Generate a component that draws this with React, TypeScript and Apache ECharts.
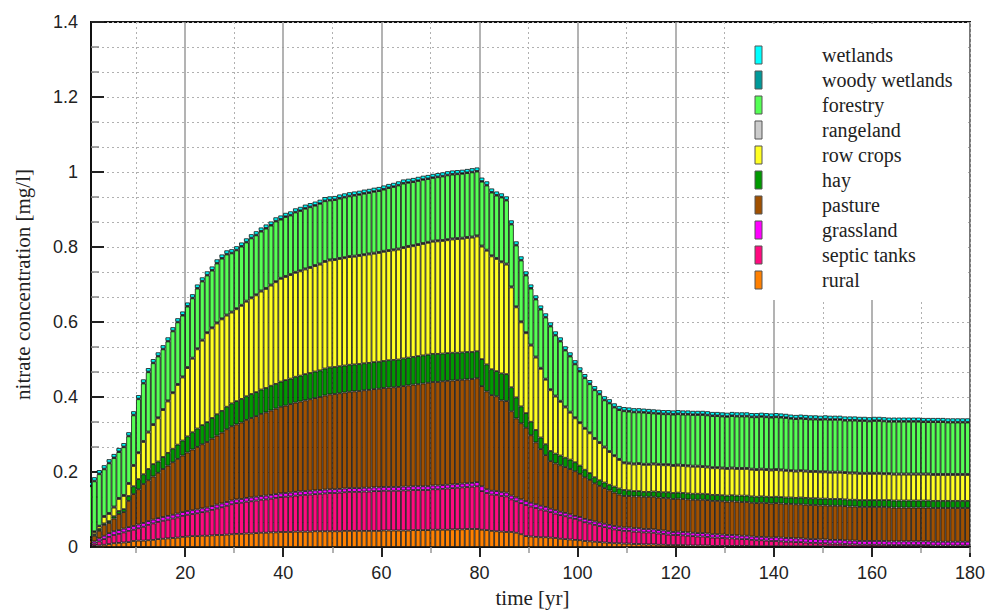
import React, { useEffect, useRef } from "react";
import * as echarts from "echarts";

// years 1..180 (one bar per year)
const years: string[] = Array.from({ length: 180 }, (_, i) => String(i + 1));

const xMajorStep = 20;
const xMinorOffset = 10;

const rural = [
  0.002,0.003,0.004,0.006,0.008,0.010,0.011,0.012,0.013,0.016,
  0.017,0.017,0.018,0.019,0.021,0.022,0.023,0.024,0.025,0.027,
  0.028,0.029,0.029,0.030,0.030,0.031,0.032,0.032,0.033,0.034,
  0.035,0.035,0.036,0.036,0.037,0.038,0.038,0.039,0.039,0.040,
  0.040,0.040,0.041,0.041,0.041,0.041,0.042,0.042,0.042,0.042,
  0.042,0.042,0.043,0.043,0.043,0.043,0.043,0.043,0.043,0.043,
  0.044,0.044,0.044,0.044,0.044,0.044,0.045,0.045,0.045,0.045,
  0.046,0.046,0.046,0.046,0.047,0.047,0.047,0.048,0.048,0.048,
  0.046,0.045,0.043,0.042,0.041,0.040,0.040,0.038,0.034,0.029,
  0.028,0.027,0.026,0.026,0.025,0.024,0.022,0.021,0.020,0.019,
  0.018,0.016,0.015,0.014,0.013,0.012,0.011,0.010,0.010,0.009,
  0.009,0.008,0.008,0.007,0.007,0.007,0.006,0.006,0.005,0.005,
  0.005,0.005,0.004,0.004,0.004,0.004,0.004,0.003,0.003,0.003,
  0.003,0.003,0.003,0.003,0.003,0.002,0.002,0.002,0.002,0.002,
  0.002,0.002,0.002,0.002,0.002,0.002,0.002,0.002,0.002,0.002,
  0.002,0.002,0.002,0.002,0.002,0.001,0.001,0.001,0.001,0.001,
  0.001,0.001,0.001,0.001,0.001,0.001,0.001,0.001,0.001,0.001,
  0.001,0.001,0.001,0.001,0.001,0.001,0.001,0.001,0.001,0.001,
];

const septicTanks = [
  0.003,0.006,0.011,0.015,0.019,0.022,0.024,0.027,0.030,0.030,
  0.033,0.037,0.041,0.044,0.046,0.048,0.050,0.052,0.054,0.056,
  0.058,0.059,0.061,0.063,0.065,0.068,0.071,0.074,0.077,0.080,
  0.082,0.083,0.085,0.086,0.087,0.088,0.089,0.090,0.092,0.093,
  0.094,0.095,0.096,0.097,0.098,0.099,0.099,0.100,0.101,0.102,
  0.102,0.103,0.103,0.104,0.104,0.104,0.105,0.105,0.106,0.106,
  0.106,0.106,0.106,0.106,0.107,0.107,0.107,0.107,0.107,0.107,
  0.108,0.108,0.109,0.110,0.110,0.111,0.112,0.112,0.113,0.114,
  0.103,0.099,0.097,0.097,0.095,0.095,0.087,0.084,0.083,0.083,
  0.080,0.077,0.074,0.071,0.068,0.065,0.063,0.061,0.058,0.056,
  0.053,0.050,0.048,0.045,0.043,0.041,0.039,0.037,0.035,0.034,
  0.034,0.033,0.033,0.032,0.032,0.031,0.030,0.029,0.028,0.027,
  0.027,0.026,0.026,0.025,0.024,0.024,0.023,0.022,0.022,0.021,
  0.020,0.020,0.019,0.018,0.018,0.017,0.016,0.016,0.015,0.014,
  0.014,0.013,0.012,0.012,0.011,0.011,0.010,0.009,0.009,0.008,
  0.008,0.007,0.007,0.007,0.006,0.006,0.006,0.005,0.005,0.005,
  0.005,0.005,0.005,0.004,0.004,0.004,0.004,0.004,0.004,0.004,
  0.004,0.004,0.003,0.003,0.003,0.003,0.003,0.003,0.003,0.003,
];

const grassland = [
  0.004,0.006,0.008,0.009,0.010,0.010,0.010,0.010,0.010,0.010,
  0.010,0.010,0.010,0.010,0.010,0.010,0.010,0.010,0.010,0.010,
  0.010,0.010,0.010,0.010,0.010,0.010,0.010,0.010,0.010,0.010,
  0.010,0.010,0.010,0.010,0.010,0.010,0.010,0.010,0.010,0.010,
  0.010,0.010,0.010,0.010,0.010,0.010,0.010,0.010,0.010,0.010,
  0.010,0.010,0.010,0.010,0.010,0.010,0.010,0.010,0.010,0.010,
  0.010,0.010,0.010,0.010,0.010,0.010,0.010,0.010,0.010,0.010,
  0.010,0.010,0.010,0.010,0.010,0.010,0.010,0.010,0.010,0.011,
  0.013,0.010,0.010,0.010,0.010,0.010,0.010,0.010,0.010,0.010,
  0.010,0.010,0.010,0.010,0.009,0.009,0.009,0.009,0.009,0.008,
  0.009,0.009,0.009,0.009,0.009,0.009,0.009,0.009,0.009,0.009,
  0.009,0.009,0.009,0.009,0.009,0.009,0.009,0.009,0.009,0.008,
  0.009,0.009,0.009,0.009,0.009,0.009,0.009,0.009,0.009,0.009,
  0.009,0.009,0.009,0.009,0.009,0.009,0.009,0.009,0.009,0.009,
  0.010,0.010,0.010,0.010,0.010,0.010,0.010,0.010,0.010,0.010,
  0.010,0.010,0.010,0.010,0.010,0.010,0.010,0.010,0.010,0.010,
  0.010,0.010,0.010,0.010,0.010,0.010,0.010,0.010,0.010,0.010,
  0.010,0.010,0.010,0.010,0.010,0.010,0.010,0.010,0.010,0.010,
];

const pasture = [
  0.009,0.015,0.020,0.029,0.027,0.034,0.043,0.044,0.070,0.085,
  0.094,0.104,0.109,0.115,0.121,0.128,0.134,0.140,0.146,0.151,
  0.156,0.162,0.167,0.171,0.175,0.180,0.184,0.189,0.194,0.198,
  0.200,0.204,0.208,0.212,0.215,0.219,0.222,0.225,0.228,0.231,
  0.233,0.236,0.238,0.240,0.242,0.244,0.246,0.248,0.251,0.253,
  0.254,0.255,0.256,0.257,0.258,0.259,0.260,0.261,0.262,0.263,
  0.264,0.265,0.266,0.267,0.268,0.270,0.271,0.272,0.274,0.276,
  0.276,0.276,0.277,0.277,0.277,0.277,0.277,0.277,0.277,0.277,
  0.267,0.261,0.255,0.253,0.245,0.244,0.225,0.211,0.203,0.196,
  0.180,0.165,0.151,0.138,0.127,0.125,0.124,0.122,0.121,0.119,
  0.115,0.111,0.107,0.102,0.098,0.095,0.092,0.089,0.086,0.084,
  0.084,0.085,0.085,0.086,0.086,0.087,0.087,0.087,0.088,0.088,
  0.088,0.088,0.088,0.088,0.089,0.089,0.089,0.089,0.089,0.089,
  0.089,0.090,0.090,0.090,0.090,0.090,0.090,0.091,0.091,0.091,
  0.091,0.091,0.091,0.091,0.091,0.091,0.091,0.091,0.091,0.091,
  0.091,0.091,0.091,0.091,0.091,0.091,0.091,0.091,0.091,0.091,
  0.091,0.091,0.091,0.091,0.090,0.090,0.090,0.090,0.090,0.090,
  0.090,0.090,0.090,0.090,0.090,0.090,0.090,0.090,0.090,0.090,
];

const hay = [
  0.003,0.004,0.005,0.004,0.005,0.006,0.008,0.008,0.013,0.021,
  0.027,0.026,0.030,0.033,0.030,0.032,0.034,0.036,0.038,0.040,
  0.043,0.046,0.049,0.051,0.053,0.055,0.057,0.058,0.060,0.061,
  0.062,0.063,0.063,0.064,0.064,0.065,0.065,0.066,0.066,0.067,
  0.068,0.068,0.069,0.069,0.070,0.070,0.071,0.071,0.072,0.072,
  0.072,0.072,0.072,0.072,0.072,0.072,0.072,0.072,0.072,0.072,
  0.072,0.073,0.073,0.073,0.074,0.074,0.074,0.075,0.075,0.075,
  0.075,0.075,0.074,0.074,0.074,0.073,0.073,0.073,0.072,0.072,
  0.072,0.072,0.069,0.067,0.072,0.072,0.064,0.056,0.045,0.039,
  0.036,0.033,0.031,0.029,0.027,0.026,0.026,0.025,0.025,0.024,
  0.022,0.020,0.018,0.016,0.015,0.015,0.015,0.016,0.016,0.016,
  0.015,0.014,0.014,0.013,0.013,0.014,0.015,0.015,0.016,0.016,
  0.016,0.016,0.016,0.016,0.016,0.016,0.016,0.016,0.016,0.016,
  0.016,0.016,0.016,0.017,0.017,0.017,0.017,0.017,0.017,0.017,
  0.017,0.017,0.017,0.017,0.017,0.018,0.018,0.018,0.018,0.018,
  0.018,0.018,0.018,0.018,0.018,0.018,0.018,0.018,0.018,0.018,
  0.018,0.018,0.018,0.019,0.019,0.019,0.019,0.019,0.019,0.019,
  0.019,0.019,0.019,0.019,0.019,0.019,0.019,0.019,0.019,0.019,
];

const rowCrops = [
  0.004,0.006,0.007,0.017,0.019,0.023,0.032,0.035,0.032,0.054,
  0.069,0.086,0.097,0.104,0.115,0.125,0.137,0.148,0.159,0.168,
  0.182,0.196,0.211,0.225,0.237,0.239,0.242,0.244,0.243,0.242,
  0.245,0.248,0.252,0.255,0.258,0.261,0.264,0.267,0.271,0.274,
  0.275,0.276,0.277,0.278,0.279,0.280,0.281,0.282,0.284,0.285,
  0.285,0.286,0.286,0.287,0.287,0.288,0.288,0.289,0.289,0.290,
  0.291,0.291,0.292,0.293,0.294,0.295,0.295,0.296,0.297,0.298,
  0.299,0.300,0.300,0.301,0.302,0.303,0.303,0.304,0.305,0.306,
  0.300,0.303,0.301,0.299,0.296,0.292,0.266,0.240,0.224,0.213,
  0.203,0.193,0.183,0.172,0.162,0.152,0.143,0.134,0.125,0.117,
  0.113,0.109,0.106,0.102,0.099,0.093,0.087,0.081,0.076,0.071,
  0.071,0.071,0.072,0.072,0.072,0.072,0.072,0.072,0.072,0.072,
  0.072,0.072,0.072,0.072,0.072,0.071,0.071,0.071,0.071,0.071,
  0.071,0.071,0.071,0.071,0.071,0.071,0.071,0.071,0.071,0.071,
  0.071,0.071,0.071,0.070,0.070,0.070,0.070,0.070,0.070,0.070,
  0.070,0.070,0.070,0.070,0.070,0.070,0.070,0.070,0.070,0.070,
  0.070,0.070,0.069,0.069,0.069,0.069,0.069,0.069,0.069,0.069,
  0.069,0.069,0.069,0.069,0.069,0.069,0.069,0.069,0.069,0.069,
];

const rangeland = [
  0.002,0.002,0.002,0.003,0.003,0.003,0.003,0.003,0.003,0.003,
  0.003,0.003,0.003,0.003,0.003,0.003,0.003,0.003,0.003,0.003,
  0.003,0.003,0.003,0.003,0.003,0.003,0.003,0.003,0.003,0.003,
  0.003,0.003,0.003,0.003,0.003,0.003,0.003,0.003,0.003,0.003,
  0.003,0.003,0.003,0.003,0.003,0.003,0.003,0.003,0.003,0.003,
  0.003,0.003,0.003,0.003,0.003,0.003,0.003,0.003,0.003,0.003,
  0.003,0.003,0.003,0.003,0.003,0.003,0.003,0.003,0.003,0.003,
  0.003,0.003,0.003,0.003,0.003,0.003,0.003,0.003,0.003,0.003,
  0.003,0.003,0.003,0.003,0.003,0.003,0.003,0.003,0.003,0.003,
  0.003,0.003,0.003,0.003,0.003,0.003,0.003,0.003,0.003,0.003,
  0.003,0.003,0.003,0.003,0.003,0.003,0.003,0.003,0.003,0.003,
  0.003,0.003,0.003,0.003,0.003,0.003,0.003,0.003,0.003,0.003,
  0.003,0.003,0.003,0.003,0.003,0.003,0.003,0.003,0.003,0.003,
  0.003,0.003,0.003,0.003,0.003,0.003,0.003,0.003,0.003,0.003,
  0.003,0.003,0.003,0.003,0.003,0.003,0.003,0.003,0.003,0.003,
  0.003,0.003,0.003,0.003,0.003,0.003,0.003,0.003,0.003,0.003,
  0.003,0.003,0.003,0.003,0.003,0.003,0.003,0.003,0.003,0.003,
  0.003,0.003,0.003,0.003,0.003,0.003,0.003,0.003,0.003,0.003,
];

const forestry = [
  0.135,0.133,0.137,0.124,0.132,0.129,0.122,0.127,0.124,0.132,
  0.141,0.153,0.158,0.162,0.162,0.159,0.157,0.162,0.164,0.162,
  0.161,0.158,0.159,0.155,0.151,0.151,0.157,0.159,0.160,0.155,
  0.154,0.155,0.155,0.157,0.157,0.157,0.158,0.157,0.159,0.155,
  0.157,0.156,0.158,0.158,0.159,0.159,0.158,0.159,0.159,0.157,
  0.157,0.158,0.159,0.159,0.160,0.160,0.161,0.161,0.162,0.162,
  0.163,0.165,0.166,0.168,0.169,0.168,0.168,0.168,0.168,0.167,
  0.167,0.168,0.169,0.170,0.170,0.170,0.170,0.170,0.171,0.170,
  0.170,0.171,0.167,0.166,0.170,0.168,0.165,0.162,0.162,0.151,
  0.149,0.152,0.155,0.163,0.167,0.160,0.158,0.149,0.147,0.141,
  0.135,0.132,0.128,0.127,0.127,0.123,0.127,0.127,0.130,0.136,
  0.136,0.136,0.135,0.136,0.135,0.133,0.133,0.133,0.133,0.134,
  0.134,0.134,0.135,0.135,0.135,0.136,0.136,0.136,0.136,0.136,
  0.136,0.137,0.137,0.137,0.137,0.137,0.138,0.138,0.138,0.138,
  0.138,0.138,0.138,0.137,0.137,0.137,0.137,0.137,0.137,0.137,
  0.138,0.138,0.138,0.138,0.137,0.138,0.138,0.138,0.138,0.137,
  0.138,0.138,0.138,0.137,0.138,0.138,0.138,0.138,0.138,0.138,
  0.137,0.137,0.138,0.138,0.138,0.137,0.137,0.137,0.137,0.137,
];

const woodyWetlands = [
  0.002,0.002,0.002,0.002,0.002,0.002,0.002,0.002,0.002,0.002,
  0.002,0.002,0.002,0.002,0.002,0.002,0.002,0.002,0.002,0.002,
  0.002,0.002,0.002,0.002,0.002,0.002,0.002,0.002,0.002,0.002,
  0.002,0.002,0.002,0.002,0.002,0.002,0.002,0.002,0.002,0.002,
  0.002,0.002,0.002,0.002,0.002,0.002,0.002,0.002,0.002,0.002,
  0.002,0.002,0.002,0.002,0.002,0.002,0.002,0.002,0.002,0.002,
  0.002,0.002,0.002,0.002,0.002,0.002,0.002,0.002,0.002,0.002,
  0.002,0.002,0.002,0.002,0.002,0.002,0.002,0.002,0.002,0.002,
  0.002,0.002,0.002,0.002,0.002,0.002,0.002,0.002,0.002,0.002,
  0.002,0.002,0.002,0.002,0.002,0.002,0.002,0.002,0.002,0.002,
  0.002,0.002,0.002,0.002,0.002,0.002,0.002,0.002,0.002,0.002,
  0.002,0.002,0.002,0.002,0.002,0.002,0.002,0.002,0.002,0.002,
  0.002,0.002,0.002,0.002,0.002,0.002,0.002,0.002,0.002,0.002,
  0.002,0.002,0.002,0.002,0.002,0.002,0.002,0.002,0.002,0.002,
  0.002,0.002,0.002,0.002,0.002,0.002,0.002,0.002,0.002,0.002,
  0.002,0.002,0.002,0.002,0.002,0.002,0.002,0.002,0.002,0.002,
  0.002,0.002,0.002,0.002,0.002,0.002,0.002,0.002,0.002,0.002,
  0.002,0.002,0.002,0.002,0.002,0.002,0.002,0.002,0.002,0.002,
];

const wetlands = [
  0.009,0.009,0.009,0.009,0.009,0.009,0.009,0.009,0.009,0.009,
  0.009,0.009,0.009,0.009,0.009,0.009,0.009,0.009,0.009,0.009,
  0.009,0.009,0.009,0.009,0.009,0.009,0.009,0.009,0.009,0.009,
  0.009,0.009,0.009,0.009,0.009,0.009,0.009,0.009,0.009,0.009,
  0.009,0.009,0.009,0.009,0.009,0.009,0.009,0.009,0.009,0.009,
  0.009,0.009,0.009,0.009,0.009,0.009,0.009,0.009,0.009,0.009,
  0.009,0.009,0.009,0.009,0.009,0.009,0.009,0.009,0.009,0.009,
  0.009,0.009,0.009,0.009,0.009,0.009,0.009,0.009,0.009,0.009,
  0.009,0.009,0.009,0.009,0.009,0.009,0.009,0.009,0.009,0.009,
  0.009,0.009,0.009,0.009,0.009,0.009,0.009,0.009,0.009,0.009,
  0.009,0.009,0.009,0.009,0.009,0.009,0.009,0.009,0.009,0.009,
  0.009,0.009,0.009,0.009,0.009,0.009,0.009,0.009,0.009,0.009,
  0.009,0.009,0.009,0.009,0.009,0.009,0.009,0.009,0.009,0.009,
  0.009,0.009,0.009,0.009,0.009,0.009,0.009,0.009,0.009,0.009,
  0.009,0.009,0.009,0.009,0.009,0.009,0.009,0.009,0.009,0.009,
  0.009,0.009,0.009,0.009,0.009,0.009,0.009,0.009,0.009,0.009,
  0.009,0.009,0.009,0.009,0.009,0.009,0.009,0.009,0.009,0.009,
  0.009,0.009,0.009,0.009,0.009,0.009,0.009,0.009,0.009,0.009,
];

// stacking order bottom -> top
const seriesNames = [
  "rural", "septic tanks", "grassland", "pasture", "hay",
  "row crops", "rangeland", "forestry", "woody wetlands", "wetlands",
];
const seriesValues = [
  rural, septicTanks, grassland, pasture, hay,
  rowCrops, rangeland, forestry, woodyWetlands, wetlands,
];
const seriesColors = [
  "#ff8000", "#ff0a7f", "#ff00ff", "#a05000", "#009900",
  "#ffff22", "#cccccc", "#55ff55", "#009999", "#00ffff",
];

export default function App() {
  const ref = useRef<HTMLDivElement>(null);

  useEffect(() => {
    if (!ref.current) return;
    const chart = echarts.init(ref.current, null, { renderer: "svg" });

    const series = seriesNames.map((name, k) => ({
      name,
      type: "bar",
      stack: "total",
      xAxisIndex: 0,
      yAxisIndex: 0,
      barCategoryGap: "0%",
      itemStyle: {
        color: seriesColors[k],
        borderColor: "#111",
        borderWidth: 0.8,
      },
      data: seriesValues[k],
    }));

    const legendEls: any[] = [];
    const order = seriesNames.map((_, i) => seriesNames.length - 1 - i);
    order.forEach((k, row) => {
      legendEls.push({
        type: "rect",
        z: 101,
        shape: { x: 755, y: 46 + row * 25, width: 7, height: 18 },
        style: { fill: seriesColors[k], stroke: "#555", lineWidth: 1 },
      });
      legendEls.push({
        type: "text",
        z: 101,
        x: 822,
        y: 55 + row * 25,
        style: {
          text: seriesNames[k],
          fontFamily: "Liberation Serif",
          fontSize: 20,
          fill: "#222",
          verticalAlign: "middle",
          align: "left",
        },
      });
    });

    const isMajor = (idx: number) => idx > 0 && idx % xMajorStep === 0;
    const isMinor = (idx: number) => idx % xMajorStep === xMinorOffset;

    chart.setOption({
      animation: false,
      backgroundColor: "#ffffff",
      grid: {
        left: 87,
        right: 20,
        top: 22,
        bottom: 65,
        show: true,
        borderColor: "#111",
        borderWidth: 2,
        backgroundColor: "transparent",
      },
      xAxis: [
        {
          type: "category",
          data: years,
          boundaryGap: true,
          position: "bottom",
          axisLine: { show: true, onZero: false, lineStyle: { color: "#111", width: 2 } },
          axisTick: {
            show: true,
            length: 10,
            alignWithLabel: false,
            interval: (idx: number) => isMajor(idx),
            lineStyle: { color: "#222", width: 2 },
          },
          axisLabel: {
            interval: (idx: number, v: string) => Number(v) % xMajorStep === 0,
            margin: 17,
            padding: [0, 0, 0, 5],
            fontSize: 18,
            fontFamily: "Liberation Sans",
            color: "#222",
          },
          splitLine: {
            show: true,
            interval: (idx: number) => isMajor(idx),
            lineStyle: { color: "#9a9a9a", width: 1.5, type: "solid" },
          },
          name: "time [yr]",
          nameLocation: "middle",
          nameGap: 40,
          nameTextStyle: { fontFamily: "Liberation Serif", fontSize: 21, color: "#222", padding: [0, 0, 0, 8] },
        },
        {
          type: "category",
          data: years,
          boundaryGap: true,
          position: "bottom",
          axisLine: { show: false },
          axisLabel: { show: false },
          axisTick: {
            show: true,
            length: 6,
            alignWithLabel: false,
            interval: (idx: number) => isMinor(idx),
            lineStyle: { color: "#999", width: 1.5 },
          },
          splitLine: {
            show: true,
            interval: (idx: number) => isMinor(idx),
            lineStyle: { color: "#b0b0b0", width: 1, type: [2, 3] },
          },
        },
      ],
      yAxis: {
        type: "value",
        min: 0,
        max: 1.4,
        interval: 0.2,
        offset: -4,
        axisLine: { show: true, onZero: false, lineStyle: { color: "#111", width: 2 } },
        axisTick: { show: true, inside: true, length: 13, lineStyle: { color: "#222", width: 2 } },
        minorTick: { show: true, splitNumber: 3, length: 8, lineStyle: { color: "#888", width: 1.5 } },
        splitLine: { show: true, lineStyle: { color: "#b0b0b0", width: 1, type: [2, 3] } },
        minorSplitLine: { show: true, lineStyle: { color: "#b0b0b0", width: 1, type: [2, 3] } },
        axisLabel: { margin: 13, fontSize: 18, fontFamily: "Liberation Sans", color: "#222" },
        name: "nitrate concentration [mg/l]",
        nameLocation: "middle",
        nameGap: 58,
        nameTextStyle: { fontFamily: "Liberation Serif", fontSize: 21, color: "#222" },
      },
      graphic: [
        {
          type: "rect",
          z: 100,
          shape: { x: 83, y: 18, width: 7, height: 533 },
          style: { fill: "#ffffff" },
        },
        {
          type: "rect",
          z: 100,
          shape: { x: 731, y: 24, width: 237, height: 276 },
          style: { fill: "#ffffff" },
        },
        ...legendEls,
      ],
      series,
    });

    return () => chart.dispose();
  }, []);

  return (
    <div
      ref={ref}
      style={{ position: "fixed", left: 0, top: 0, width: 990, height: 613 }}
    />
  );
}
